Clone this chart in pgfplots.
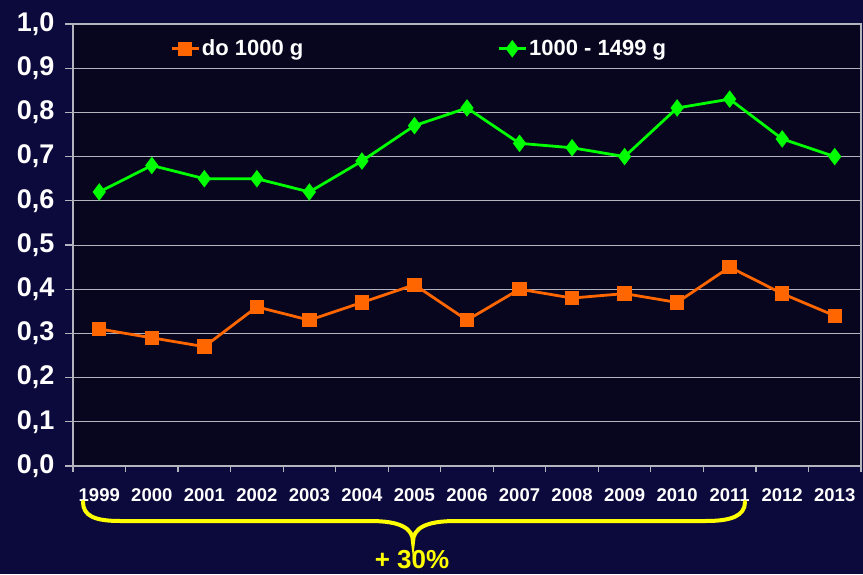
\documentclass[border=0pt]{standalone}
\usepackage{pgfplots}
\pgfplotsset{compat=1.18}
\usepackage{fontspec}
\setmainfont{Liberation Sans}
\definecolor{bg}{HTML}{0C0A3C}
\definecolor{plotbg}{HTML}{07061E}
\definecolor{orng}{HTML}{FF6600}
\definecolor{grn}{HTML}{00FF00}
\definecolor{gridc}{HTML}{B4B4BE}
\definecolor{yel}{HTML}{FFFF00}
\pgfplotstableread{
x small big
0 0.31 0.62
1 0.29 0.68
2 0.27 0.65
3 0.36 0.65
4 0.33 0.62
5 0.37 0.69
6 0.41 0.77
7 0.33 0.81
8 0.40 0.73
9 0.38 0.72
10 0.39 0.70
11 0.37 0.81
12 0.45 0.83
13 0.39 0.74
14 0.34 0.70
}\data
\begin{document}
\begin{tikzpicture}[x=1pt,y=1pt]
\fill[bg] (0,0) rectangle (863,574);
\begin{axis}[
  at={(73pt,108pt)}, anchor=south west,
  width=788pt, height=442pt, scale only axis,
  xmin=-0.5, xmax=14.5, ymin=0, ymax=1,
  clip=false,
  axis background/.style={fill=plotbg},
  axis line style={gridc, line width=1.2pt},
  xtick pos=bottom, ytick pos=left,
  ytick={0,0.1,0.2,0.3,0.4,0.5,0.6,0.7,0.8,0.9,1.0},
  yticklabel style={/pgf/number format/fixed, /pgf/number format/fixed zerofill, /pgf/number format/precision=1, /pgf/number format/use comma, /pgf/number format/assume math mode=true},
  yticklabel style={font=\bfseries\fontsize{27}{27}\selectfont, text=white, xshift=-7pt},
  ymajorgrids, major grid style={gridc, line width=0.8pt},
  tick align=outside,
  major tick length=8pt,
  minor tick length=6pt,
  tick style={gridc, line width=1.2pt},
  xtick={0,...,14},
  xticklabels={1999,2000,2001,2002,2003,2004,2005,2006,2007,2008,2009,2010,2011,2012,2013},
  major x tick style={draw=none},
  minor xtick={-0.5,0.5,...,14.5},
  xticklabel style={font=\bfseries\fontsize{18.5}{19}\selectfont, text=white, yshift=-11pt},
  legend columns=2,
  legend style={at={(0.123,0.944)}, anchor=west, draw=none, fill=none, inner sep=0pt,
    font=\bfseries\fontsize{22}{22}\selectfont, text=white,
    /tikz/every even column/.append style={column sep=192pt}},
  legend image code/.code={\draw[mark repeat=2,mark phase=2,#1] plot coordinates {(0pt,0pt) (13.5pt,0pt) (27pt,0pt)};},
]
\addplot[orng, line width=2.8pt, mark=square*, mark size=5.8pt, mark options={solid}] table[x=x,y=small] {\data};
\addlegendentry{do 1000 g}
\addplot[grn, line width=2.8pt, mark=diamond*, mark size=6.5pt, mark options={solid}] table[x=x,y=big] {\data};
\addlegendentry{1000 - 1499 g}
\end{axis}
\draw[yel, line width=4pt, line cap=round] (83,72) .. controls (83,58) and (95,53) .. (120,53) -- (370,53) .. controls (400,53) and (413,46) .. (413,32) .. controls (413,46) and (426,53) .. (456,53) -- (706,53) .. controls (731,53) and (745,58) .. (745,72);
\node[text=yel, font=\bfseries\fontsize{26}{26}\selectfont, inner sep=0pt] at (412,14) {+ 30\%};
\end{tikzpicture}
\end{document}
